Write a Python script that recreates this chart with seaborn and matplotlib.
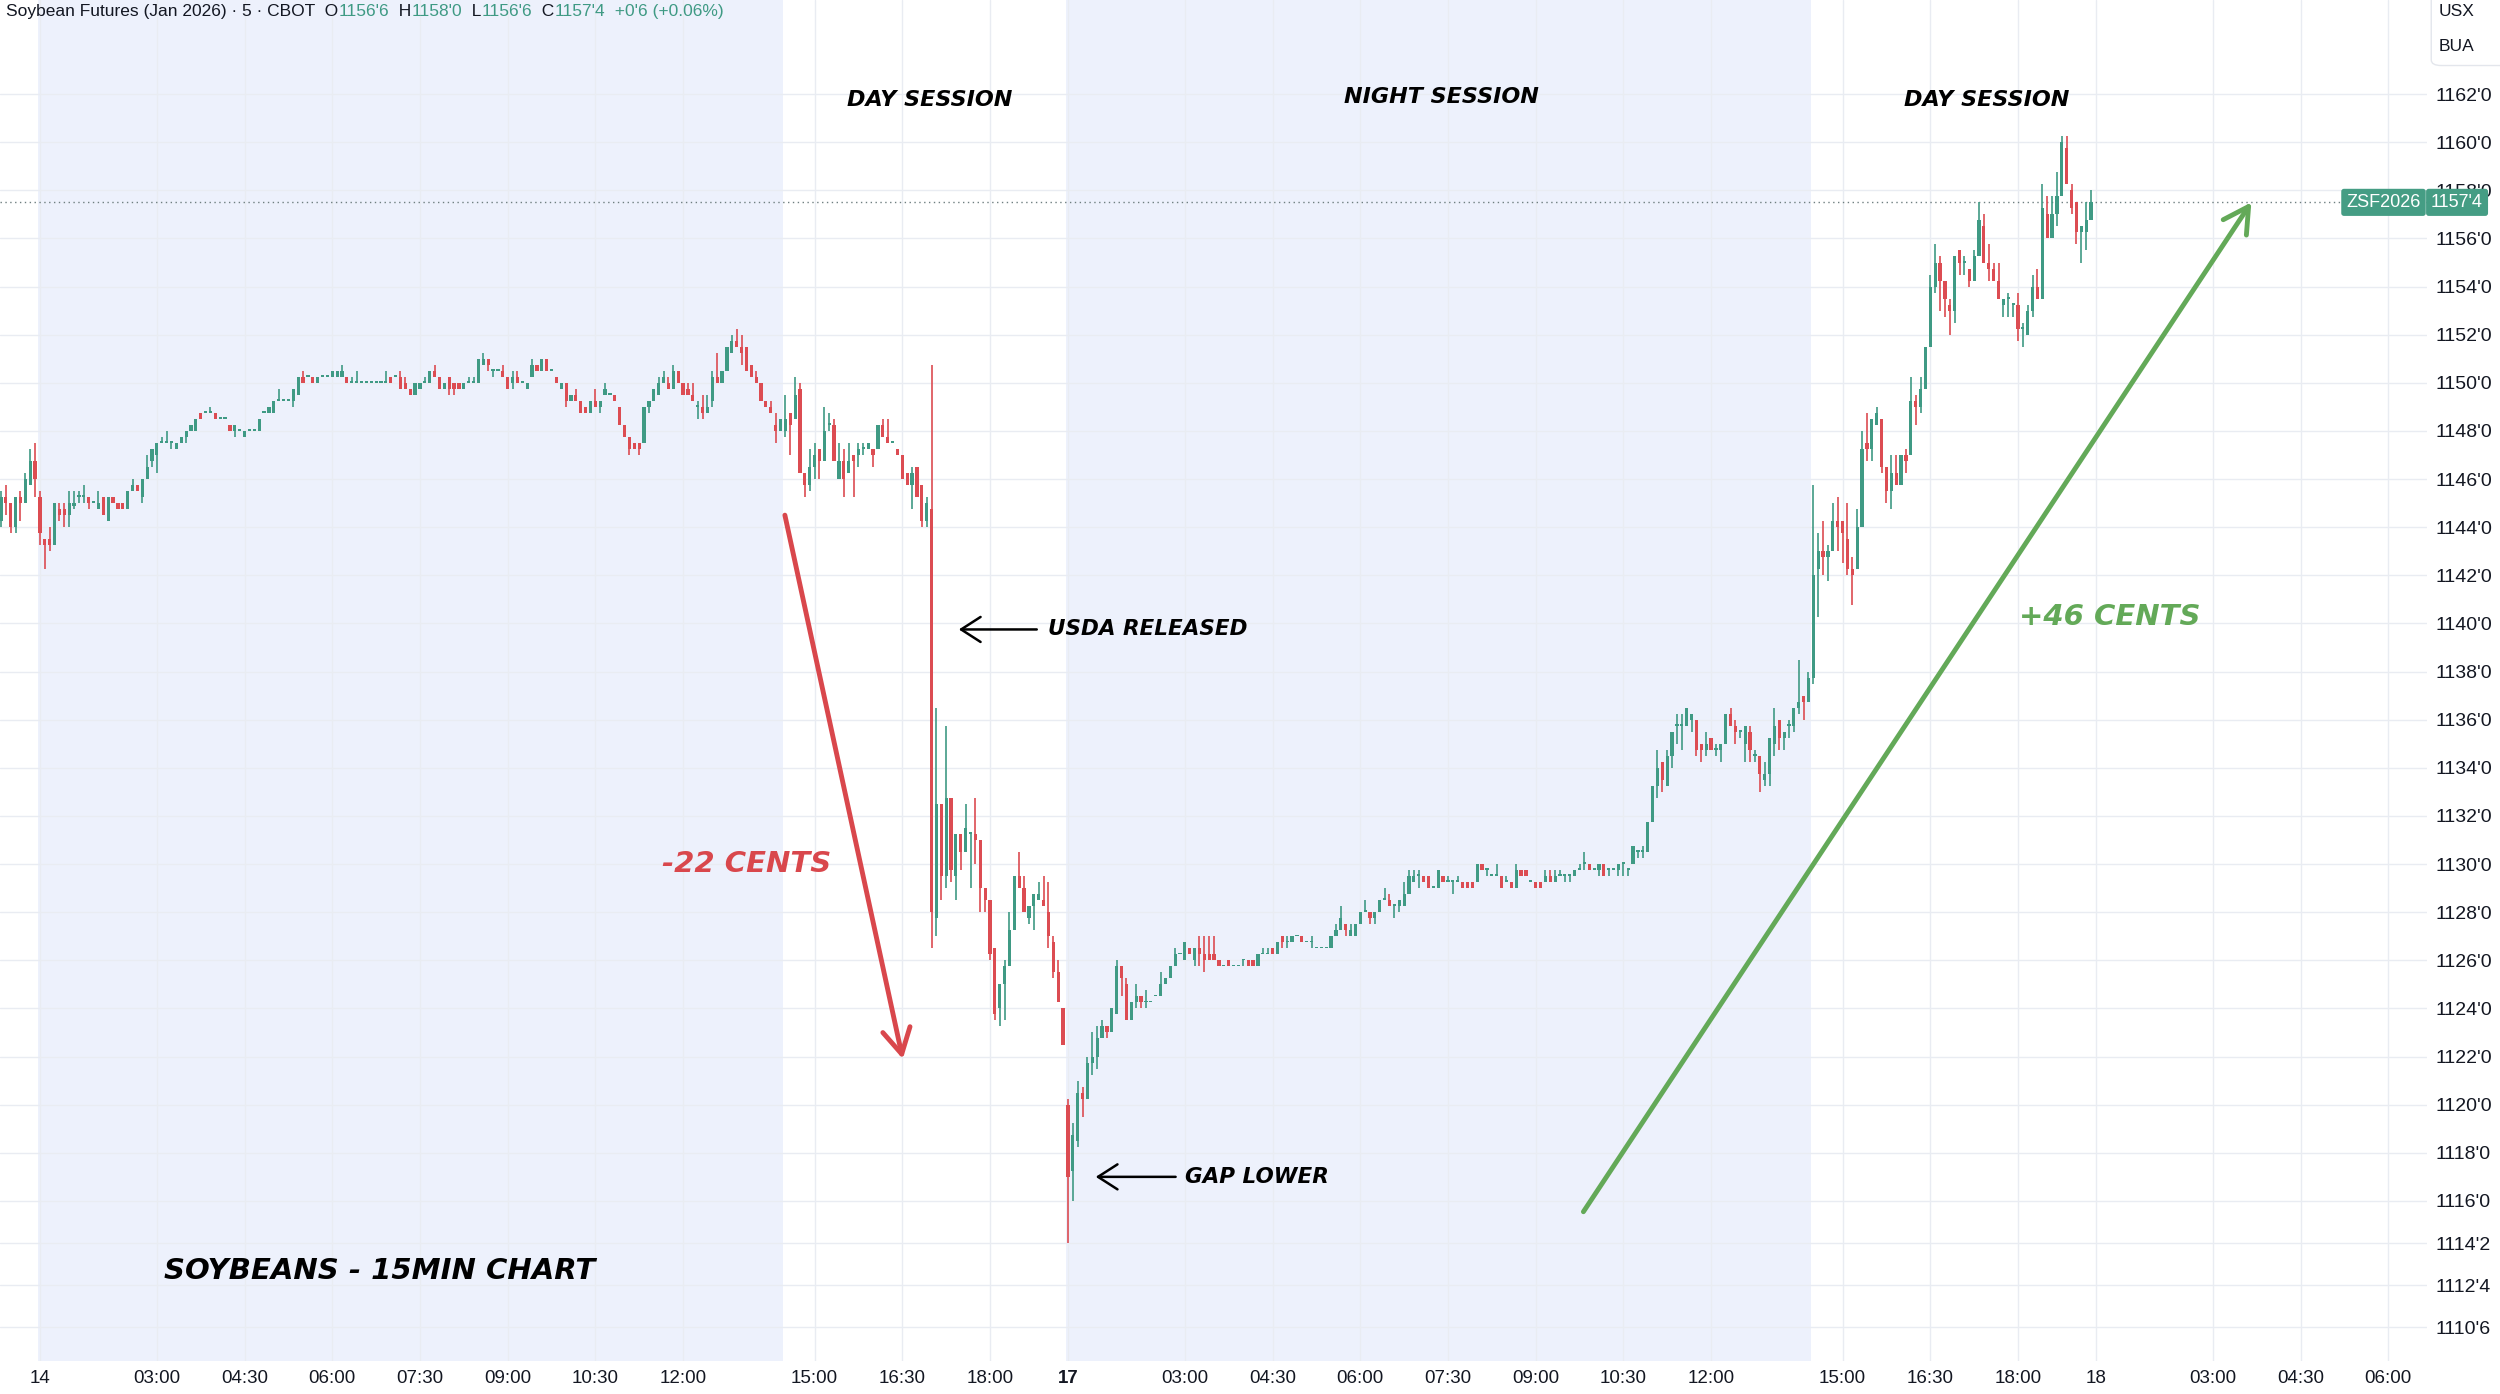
import numpy as np
import pandas as pd
import matplotlib
matplotlib.use("Agg")
import matplotlib.pyplot as plt
import matplotlib.transforms as mtransforms
from matplotlib.patches import FancyBboxPatch
from matplotlib.offsetbox import TextArea, HPacker, AnchoredOffsetbox
import seaborn as sns

# 5 minute bars, (open, high, low, close) in cents
pre13 = [
    (1144.25, 1145.5, 1144.0, 1145.25), (1145.25, 1145.75, 1144.5, 1145.0),
    (1145.0, 1145.0, 1143.75, 1144.0), (1144.0, 1145.25, 1143.75, 1145.25),
    (1145.25, 1145.5, 1144.25, 1145.0), (1145.0, 1146.25, 1145.0, 1146.0),
    (1145.75, 1147.25, 1145.75, 1146.75), (1146.75, 1147.5, 1145.25, 1146.0),
]

night14 = [
    (1145.25, 1145.5, 1143.25, 1143.75), (1143.5, 1143.5, 1142.25, 1143.25),
    (1143.5, 1144.0, 1143.0, 1143.25), (1143.25, 1145.0, 1143.25, 1145.0),
    (1144.75, 1145.0, 1144.25, 1144.5), (1144.75, 1145.0, 1144.0, 1144.5),
    (1144.5, 1145.5, 1144.0, 1145.0), (1144.875, 1145.5, 1144.75, 1145.0),
    (1145.25, 1145.5, 1145.0, 1145.25), (1145.25, 1145.75, 1145.0, 1145.25),
    (1145.25, 1145.25, 1144.75, 1145.0), (1145.0, 1145.0, 1145.0, 1145.0),
    (1144.75, 1145.5, 1144.75, 1145.0), (1145.25, 1145.25, 1144.5, 1144.5),
    (1144.25, 1145.25, 1144.25, 1145.25), (1145.25, 1145.25, 1145.0, 1145.0),
    (1145.0, 1145.0, 1144.75, 1144.75), (1145.0, 1145.0, 1144.75, 1144.75),
    (1144.75, 1145.5, 1144.75, 1145.5), (1145.5, 1146.0, 1145.5, 1145.75),
    (1145.75, 1145.75, 1145.5, 1145.5), (1145.25, 1146.0, 1145.0, 1146.0),
    (1146.0, 1147.0, 1146.0, 1146.5), (1146.75, 1147.25, 1146.5, 1147.25),
    (1147.0, 1147.5, 1146.25, 1147.5), (1147.5, 1147.75, 1147.5, 1147.5),
    (1147.5, 1148.0, 1147.5, 1147.5), (1147.5, 1147.5, 1147.25, 1147.5),
    (1147.25, 1147.5, 1147.25, 1147.5), (1147.5, 1147.75, 1147.5, 1147.75),
    (1147.75, 1148.0, 1147.5, 1148.0), (1148.0, 1148.25, 1148.0, 1148.25),
    (1148.0, 1148.5, 1148.0, 1148.5), (1148.75, 1148.75, 1148.5, 1148.5),
    (1148.75, 1148.75, 1148.75, 1148.75), (1148.75, 1149.0, 1148.75, 1148.75),
    (1148.75, 1148.75, 1148.5, 1148.5), (1148.5, 1148.5, 1148.5, 1148.5),
    (1148.5, 1148.5, 1148.5, 1148.5), (1148.25, 1148.25, 1148.0, 1148.0),
    (1148.0, 1148.25, 1147.75, 1148.25), (1148.0, 1148.0, 1148.0, 1148.0),
    (1147.75, 1148.0, 1147.75, 1148.0), (1148.0, 1148.0, 1148.0, 1148.0),
    (1148.0, 1148.0, 1148.0, 1148.0), (1148.0, 1148.5, 1148.0, 1148.5),
    (1148.75, 1148.75, 1148.75, 1148.75), (1148.75, 1149.0, 1148.75, 1149.0),
    (1148.75, 1149.25, 1148.75, 1149.25), (1149.25, 1149.75, 1149.25, 1149.25),
    (1149.25, 1149.25, 1149.25, 1149.25), (1149.25, 1149.25, 1149.25, 1149.25),
    (1149.25, 1149.75, 1149.0, 1149.75), (1149.5, 1150.25, 1149.5, 1150.25),
    (1150.25, 1150.5, 1150.0, 1150.0), (1150.25, 1150.25, 1150.25, 1150.25),
    (1150.25, 1150.25, 1150.0, 1150.0), (1150.0, 1150.25, 1150.0, 1150.25),
    (1150.25, 1150.25, 1150.25, 1150.25), (1150.25, 1150.25, 1150.25, 1150.25),
    (1150.25, 1150.5, 1150.25, 1150.5), (1150.25, 1150.5, 1150.25, 1150.5),
    (1150.25, 1150.75, 1150.25, 1150.5), (1150.25, 1150.25, 1150.0, 1150.0),
    (1150.0, 1150.25, 1150.0, 1150.0), (1150.0, 1150.5, 1150.0, 1150.0),
    (1150.0, 1150.0, 1150.0, 1150.0), (1150.0, 1150.0, 1150.0, 1150.0),
    (1150.0, 1150.0, 1150.0, 1150.0), (1150.0, 1150.0, 1150.0, 1150.0),
    (1150.0, 1150.0, 1150.0, 1150.0), (1150.0, 1150.5, 1150.0, 1150.0),
    (1150.25, 1150.25, 1150.0, 1150.0), (1150.25, 1150.25, 1150.25, 1150.25),
    (1150.25, 1150.5, 1149.75, 1149.75), (1150.0, 1150.25, 1149.75, 1149.75),
    (1149.75, 1149.75, 1149.5, 1149.5), (1149.5, 1150.0, 1149.5, 1150.0),
    (1149.75, 1150.0, 1149.75, 1150.0), (1150.0, 1150.25, 1150.0, 1150.0),
    (1150.0, 1150.5, 1150.0, 1150.5), (1150.5, 1150.75, 1150.25, 1150.25),
    (1150.25, 1150.25, 1149.75, 1149.75), (1149.75, 1150.0, 1149.75, 1150.0),
    (1150.25, 1150.25, 1149.5, 1149.75), (1150.0, 1150.0, 1149.5, 1149.75),
    (1150.0, 1150.0, 1149.75, 1149.75), (1149.75, 1150.0, 1149.75, 1150.0),
    (1150.0, 1150.25, 1150.0, 1150.0), (1150.0, 1150.25, 1150.0, 1150.0),
    (1150.0, 1151.0, 1150.0, 1151.0), (1150.75, 1151.25, 1150.75, 1151.0),
    (1151.0, 1151.0, 1150.5, 1150.75), (1150.5, 1150.5, 1150.25, 1150.5),
    (1150.5, 1150.5, 1150.5, 1150.5), (1150.5, 1150.75, 1150.25, 1150.25),
    (1150.25, 1150.25, 1149.75, 1149.75), (1150.0, 1150.5, 1149.75, 1150.25),
    (1150.25, 1150.5, 1150.0, 1150.0), (1150.0, 1150.0, 1150.0, 1150.0),
    (1149.75, 1150.0, 1149.75, 1150.0), (1150.25, 1151.0, 1150.25, 1150.75),
    (1150.75, 1150.75, 1150.5, 1150.5), (1150.5, 1151.0, 1150.5, 1151.0),
    (1151.0, 1151.0, 1150.5, 1150.5), (1150.5, 1150.5, 1150.5, 1150.5),
    (1150.25, 1150.25, 1150.0, 1150.0), (1149.75, 1150.0, 1149.75, 1150.0),
    (1150.0, 1150.0, 1149.0, 1149.25), (1149.25, 1149.5, 1149.25, 1149.5),
    (1149.5, 1149.75, 1149.25, 1149.25), (1149.25, 1149.25, 1148.75, 1148.75),
    (1149.0, 1149.0, 1148.75, 1148.75), (1148.75, 1149.25, 1148.75, 1149.25),
    (1149.25, 1149.75, 1149.0, 1149.0), (1149.0, 1149.25, 1148.75, 1149.25),
    (1149.5, 1150.0, 1149.5, 1149.75), (1149.5, 1149.5, 1149.5, 1149.5),
    (1149.5, 1149.5, 1149.25, 1149.25), (1149.0, 1149.0, 1148.25, 1148.25),
    (1148.25, 1148.25, 1147.75, 1147.75), (1147.75, 1147.75, 1147.0, 1147.25),
    (1147.5, 1147.5, 1147.25, 1147.25), (1147.5, 1147.5, 1147.0, 1147.25),
    (1147.5, 1149.0, 1147.5, 1149.0), (1149.0, 1149.25, 1148.75, 1149.25),
    (1149.25, 1149.75, 1149.25, 1149.75), (1149.5, 1150.25, 1149.5, 1150.0),
    (1150.0, 1150.5, 1150.0, 1150.25), (1150.0, 1150.25, 1149.75, 1149.75),
    (1149.75, 1150.75, 1149.75, 1150.5), (1150.5, 1150.5, 1150.0, 1150.0),
    (1150.0, 1150.0, 1149.5, 1149.5), (1149.75, 1150.0, 1149.5, 1149.5),
    (1149.5, 1150.0, 1149.25, 1149.25), (1149.0, 1149.25, 1148.5, 1149.0),
    (1149.0, 1149.5, 1148.5, 1148.75), (1148.75, 1149.5, 1148.75, 1149.0),
    (1149.25, 1150.5, 1149.0, 1150.25), (1150.25, 1151.25, 1150.0, 1150.0),
    (1150.0, 1150.5, 1150.0, 1150.5), (1150.5, 1151.5, 1150.5, 1151.5),
    (1151.25, 1152.0, 1151.25, 1151.75), (1151.75, 1152.25, 1151.5, 1151.5),
    (1151.5, 1152.0, 1150.75, 1151.25), (1151.5, 1151.5, 1150.5, 1150.5),
    (1150.75, 1150.75, 1150.25, 1150.25), (1150.25, 1150.5, 1150.0, 1150.0),
    (1150.0, 1150.0, 1149.25, 1149.25), (1149.25, 1149.25, 1149.0, 1149.0),
    (1149.0, 1149.25, 1148.75, 1148.75), (1148.25, 1148.75, 1147.5, 1148.0),
    (1148.0, 1148.5, 1148.0, 1148.5),
]

day14 = [
    (1148.0, 1149.5, 1147.75, 1148.5), (1148.75, 1148.75, 1147.0, 1148.25),
    (1148.5, 1150.25, 1148.5, 1149.5), (1149.75, 1150.0, 1146.25, 1146.25),
    (1146.25, 1146.25, 1145.25, 1145.75), (1145.75, 1147.25, 1145.5, 1146.5),
    (1146.5, 1147.5, 1146.0, 1147.0), (1147.25, 1147.25, 1146.0, 1146.75),
    (1146.75, 1149.0, 1146.75, 1148.0), (1148.25, 1148.75, 1148.0, 1148.25),
    (1148.25, 1148.5, 1146.75, 1146.75), (1146.0, 1147.5, 1146.0, 1146.75),
    (1146.75, 1147.25, 1145.25, 1146.0), (1146.25, 1147.5, 1146.25, 1146.75),
    (1147.0, 1147.0, 1145.25, 1146.75), (1147.0, 1147.5, 1146.5, 1147.25),
    (1147.25, 1147.5, 1147.0, 1147.25), (1147.25, 1147.5, 1147.25, 1147.5),
    (1147.25, 1147.25, 1146.5, 1147.0), (1147.25, 1148.25, 1147.25, 1148.25),
    (1148.25, 1148.5, 1147.75, 1147.75), (1147.75, 1148.5, 1147.5, 1147.5),
    (1147.5, 1147.5, 1147.5, 1147.5), (1147.25, 1147.25, 1147.0, 1147.0),
    (1147.0, 1147.0, 1146.0, 1146.0), (1146.25, 1146.25, 1145.75, 1145.75),
    (1145.75, 1146.5, 1144.75, 1146.25), (1146.5, 1146.5, 1145.25, 1145.25),
    (1145.75, 1145.75, 1144.0, 1144.25), (1144.25, 1145.25, 1144.0, 1145.0),
    (1144.75, 1150.75, 1126.5, 1128.0), (1127.75, 1136.5, 1127.0, 1132.5),
    (1132.5, 1132.5, 1128.5, 1129.5), (1129.5, 1135.75, 1129.0, 1132.75),
    (1132.75, 1132.75, 1129.25, 1129.75), (1129.5, 1131.25, 1128.5, 1131.25),
    (1131.25, 1131.25, 1129.75, 1130.5), (1130.5, 1132.5, 1130.5, 1131.5),
    (1131.25, 1131.25, 1129.0, 1131.25), (1131.25, 1132.75, 1130.0, 1131.0),
    (1131.0, 1131.0, 1128.0, 1129.0), (1129.0, 1129.0, 1128.0, 1128.5),
    (1128.5, 1128.5, 1126.0, 1126.25), (1126.5, 1126.5, 1123.5, 1123.75),
    (1124.0, 1125.0, 1123.25, 1125.0), (1125.0, 1126.0, 1123.5, 1125.75),
    (1125.75, 1128.0, 1125.75, 1127.25), (1127.25, 1129.5, 1127.25, 1129.5),
    (1129.5, 1130.5, 1129.0, 1129.0), (1129.0, 1129.5, 1128.0, 1128.0),
    (1127.75, 1128.25, 1127.5, 1128.25), (1128.25, 1128.75, 1127.25, 1128.75),
    (1128.5, 1129.25, 1128.5, 1128.75), (1128.5, 1129.5, 1128.25, 1128.25),
    (1128.0, 1129.25, 1126.5, 1127.0), (1126.75, 1127.0, 1125.25, 1125.5),
    (1125.5, 1126.0, 1124.25, 1124.25), (1124.0, 1124.0, 1122.5, 1122.5),
]

night17 = [
    (1120.0, 1120.25, 1114.25, 1117.0), (1117.25, 1119.25, 1116.0, 1118.75),
    (1118.5, 1121.0, 1118.25, 1120.5), (1120.5, 1120.75, 1119.5, 1120.25),
    (1120.25, 1122.0, 1120.25, 1121.75), (1121.75, 1123.0, 1121.25, 1122.0),
    (1122.0, 1123.25, 1121.5, 1122.75), (1122.75, 1123.5, 1122.75, 1123.25),
    (1123.25, 1123.25, 1122.75, 1123.0), (1123.0, 1124.0, 1123.0, 1124.0),
    (1123.75, 1126.0, 1123.75, 1125.75), (1125.75, 1125.75, 1124.5, 1125.25),
    (1125.0, 1125.25, 1123.5, 1123.5), (1123.5, 1124.25, 1123.5, 1124.25),
    (1124.25, 1125.0, 1124.0, 1124.5), (1124.5, 1124.5, 1124.0, 1124.25),
    (1124.25, 1124.75, 1124.0, 1124.25), (1124.25, 1124.25, 1124.25, 1124.25),
    (1124.5, 1124.5, 1124.5, 1124.5), (1124.5, 1125.5, 1124.5, 1125.0),
    (1125.0, 1125.25, 1125.0, 1125.25), (1125.25, 1125.75, 1125.25, 1125.75),
    (1125.75, 1126.5, 1125.75, 1126.25), (1126.25, 1126.25, 1126.25, 1126.25),
    (1126.0, 1126.75, 1126.0, 1126.75), (1126.5, 1126.5, 1126.25, 1126.25),
    (1126.0, 1126.5, 1125.75, 1126.5), (1126.5, 1127.0, 1125.75, 1126.25),
    (1126.25, 1127.0, 1125.5, 1126.0), (1126.25, 1127.0, 1126.0, 1126.0),
    (1126.25, 1127.0, 1126.0, 1126.0), (1126.0, 1126.0, 1125.75, 1125.75),
    (1125.75, 1125.75, 1125.75, 1125.75), (1126.0, 1126.0, 1125.75, 1125.75),
    (1125.75, 1125.75, 1125.75, 1125.75), (1125.75, 1125.75, 1125.75, 1125.75),
    (1126.0, 1126.0, 1125.75, 1126.0), (1126.0, 1126.0, 1125.75, 1125.75),
    (1126.0, 1126.0, 1125.75, 1125.75), (1125.75, 1126.25, 1125.75, 1126.25),
    (1126.25, 1126.5, 1126.25, 1126.25), (1126.25, 1126.5, 1126.25, 1126.25),
    (1126.5, 1126.5, 1126.25, 1126.25), (1126.25, 1126.75, 1126.25, 1126.75),
    (1127.0, 1127.0, 1126.5, 1126.75), (1126.75, 1127.0, 1126.5, 1126.75),
    (1126.75, 1127.0, 1126.75, 1127.0), (1127.0, 1127.0, 1127.0, 1127.0),
    (1127.0, 1127.0, 1126.75, 1126.75), (1126.75, 1126.75, 1126.75, 1126.75),
    (1126.75, 1127.0, 1126.5, 1126.75), (1126.5, 1126.5, 1126.5, 1126.5),
    (1126.5, 1126.5, 1126.5, 1126.5), (1126.5, 1126.5, 1126.5, 1126.5),
    (1126.5, 1127.0, 1126.5, 1127.0), (1127.0, 1127.5, 1127.0, 1127.25),
    (1127.25, 1128.25, 1127.25, 1127.75), (1127.5, 1127.5, 1127.0, 1127.25),
    (1127.0, 1127.5, 1127.0, 1127.25), (1127.0, 1127.5, 1127.0, 1127.5),
    (1127.5, 1128.0, 1127.5, 1128.0), (1128.0, 1128.5, 1128.0, 1128.0),
    (1128.0, 1128.0, 1127.5, 1127.75), (1127.75, 1128.0, 1127.5, 1128.0),
    (1128.0, 1128.5, 1128.0, 1128.5), (1128.5, 1129.0, 1128.5, 1128.5),
    (1128.5, 1128.75, 1128.25, 1128.25), (1128.25, 1128.25, 1127.75, 1128.25),
    (1128.25, 1128.5, 1128.0, 1128.5), (1128.25, 1129.25, 1128.25, 1128.75),
    (1128.75, 1129.75, 1128.75, 1129.5), (1129.25, 1129.75, 1129.25, 1129.5),
    (1129.5, 1129.75, 1129.0, 1129.5), (1129.5, 1129.5, 1129.25, 1129.25),
    (1129.5, 1129.5, 1129.0, 1129.0), (1129.0, 1129.0, 1129.0, 1129.0),
    (1129.0, 1129.75, 1129.0, 1129.75), (1129.5, 1129.5, 1129.25, 1129.25),
    (1129.25, 1129.5, 1129.25, 1129.25), (1129.25, 1129.25, 1128.75, 1129.25),
    (1129.25, 1129.5, 1129.25, 1129.25), (1129.25, 1129.25, 1129.0, 1129.0),
    (1129.25, 1129.25, 1129.0, 1129.0), (1129.25, 1129.25, 1129.0, 1129.0),
    (1129.25, 1130.0, 1129.25, 1130.0), (1130.0, 1130.0, 1129.75, 1129.75),
    (1129.75, 1129.75, 1129.5, 1129.75), (1129.5, 1129.5, 1129.5, 1129.5),
    (1129.5, 1130.0, 1129.5, 1129.5), (1129.5, 1129.5, 1129.0, 1129.0),
    (1129.25, 1129.5, 1129.25, 1129.25), (1129.25, 1129.25, 1129.0, 1129.0),
    (1129.0, 1130.0, 1129.0, 1129.75), (1129.75, 1129.75, 1129.5, 1129.5),
    (1129.75, 1129.75, 1129.5, 1129.5), (1129.25, 1129.25, 1129.25, 1129.25),
    (1129.25, 1129.25, 1129.0, 1129.0), (1129.25, 1129.25, 1129.0, 1129.0),
    (1129.25, 1129.75, 1129.25, 1129.5), (1129.5, 1129.75, 1129.25, 1129.25),
    (1129.25, 1129.75, 1129.25, 1129.5), (1129.5, 1129.75, 1129.5, 1129.5),
    (1129.5, 1129.5, 1129.25, 1129.5), (1129.5, 1129.5, 1129.25, 1129.5),
    (1129.5, 1129.75, 1129.5, 1129.75), (1129.75, 1130.0, 1129.75, 1129.75),
    (1130.0, 1130.5, 1129.75, 1130.0), (1130.0, 1130.0, 1129.75, 1129.75),
    (1129.75, 1129.75, 1129.75, 1129.75), (1129.75, 1130.0, 1129.5, 1130.0),
    (1130.0, 1130.0, 1129.5, 1129.5), (1129.75, 1129.75, 1129.5, 1129.75),
    (1129.75, 1129.75, 1129.75, 1129.75), (1129.75, 1130.0, 1129.5, 1130.0),
    (1130.0, 1130.0, 1129.5, 1130.0), (1129.75, 1129.75, 1129.5, 1129.75),
    (1130.0, 1130.75, 1130.0, 1130.75), (1130.5, 1130.5, 1130.25, 1130.5),
    (1130.5, 1130.75, 1130.25, 1130.5), (1130.5, 1131.75, 1130.5, 1131.75),
    (1131.75, 1133.25, 1131.75, 1133.25), (1133.25, 1134.75, 1132.75, 1134.0),
    (1134.25, 1134.25, 1133.0, 1133.5), (1133.25, 1134.75, 1133.25, 1134.5),
    (1134.5, 1135.5, 1134.0, 1135.5), (1135.75, 1136.25, 1135.0, 1135.75),
    (1135.75, 1136.25, 1134.75, 1135.75), (1135.75, 1136.5, 1135.75, 1136.5),
    (1136.0, 1136.25, 1135.5, 1136.25), (1136.0, 1136.0, 1134.5, 1134.75),
    (1135.0, 1135.0, 1134.25, 1134.75), (1134.75, 1135.5, 1134.5, 1135.0),
    (1135.25, 1135.25, 1134.75, 1134.75), (1134.75, 1135.0, 1134.5, 1134.75),
    (1134.75, 1135.0, 1134.25, 1135.0), (1135.0, 1136.25, 1135.0, 1136.25),
    (1136.25, 1136.5, 1135.75, 1135.75), (1135.75, 1136.0, 1135.0, 1135.5),
    (1135.5, 1135.5, 1135.25, 1135.5), (1135.0, 1135.75, 1134.25, 1135.75),
    (1135.5, 1135.75, 1134.25, 1134.75), (1134.5, 1134.75, 1134.25, 1134.5),
    (1134.5, 1134.5, 1133.0, 1133.75), (1133.5, 1134.25, 1133.25, 1133.75),
    (1133.75, 1135.25, 1133.25, 1135.25), (1135.0, 1136.5, 1134.5, 1135.75),
    (1136.0, 1136.0, 1134.75, 1135.25), (1135.25, 1135.5, 1134.75, 1135.5),
    (1135.75, 1136.0, 1135.25, 1135.75), (1135.75, 1136.5, 1135.5, 1136.5),
    (1136.5, 1138.5, 1136.25, 1136.75), (1137.0, 1137.0, 1136.0, 1136.75),
    (1136.75, 1138.0, 1136.75, 1137.75),
]

day17 = [
    (1137.75, 1145.75, 1137.5, 1142.0), (1142.25, 1143.75, 1140.25, 1143.0),
    (1143.0, 1144.25, 1142.0, 1142.75), (1142.75, 1143.25, 1141.75, 1143.0),
    (1143.0, 1145.0, 1143.0, 1144.25), (1144.25, 1145.25, 1143.0, 1144.0),
    (1144.25, 1144.25, 1142.5, 1143.75), (1143.5, 1145.0, 1142.0, 1142.25),
    (1142.25, 1142.75, 1140.75, 1142.0), (1142.25, 1144.75, 1142.25, 1144.0),
    (1144.0, 1148.0, 1144.0, 1147.25), (1147.5, 1148.75, 1146.75, 1147.25),
    (1147.25, 1148.5, 1146.75, 1148.5), (1148.25, 1149.0, 1148.25, 1148.75),
    (1148.5, 1148.5, 1146.25, 1146.5), (1146.5, 1146.5, 1145.0, 1145.5),
    (1145.5, 1147.0, 1144.75, 1146.25), (1146.25, 1147.0, 1145.75, 1145.75),
    (1145.75, 1147.0, 1145.75, 1147.0), (1147.0, 1147.25, 1146.25, 1146.75),
    (1147.0, 1150.25, 1147.0, 1149.25), (1149.25, 1149.5, 1148.25, 1149.0),
    (1149.0, 1150.25, 1148.75, 1149.75), (1149.75, 1151.5, 1149.75, 1151.5),
    (1151.5, 1154.5, 1151.5, 1154.0), (1154.0, 1155.75, 1153.75, 1155.0),
    (1155.0, 1155.25, 1153.0, 1154.25), (1154.25, 1154.25, 1152.75, 1153.5),
    (1153.25, 1153.5, 1152.0, 1153.0), (1153.0, 1155.25, 1152.5, 1155.25),
    (1155.5, 1155.5, 1154.5, 1155.0), (1155.0, 1155.25, 1154.5, 1155.0),
    (1154.75, 1154.75, 1154.0, 1154.25), (1154.25, 1155.5, 1154.25, 1155.25),
    (1155.25, 1157.5, 1155.25, 1156.75), (1156.5, 1157.0, 1155.0, 1155.0),
    (1155.0, 1155.75, 1154.25, 1154.75), (1154.75, 1155.0, 1154.25, 1154.25),
    (1154.25, 1155.0, 1153.5, 1153.5), (1153.25, 1153.5, 1152.75, 1153.5),
    (1153.5, 1153.75, 1152.75, 1153.5), (1153.25, 1153.25, 1152.75, 1153.25),
    (1153.25, 1153.75, 1151.75, 1152.25), (1152.25, 1152.5, 1151.5, 1152.25),
    (1152.0, 1153.25, 1152.0, 1153.0), (1153.0, 1154.5, 1152.75, 1154.0),
    (1154.0, 1154.75, 1153.5, 1153.5), (1153.5, 1158.25, 1153.5, 1157.25),
    (1157.0, 1157.75, 1156.0, 1156.0), (1156.0, 1157.75, 1156.0, 1157.0),
    (1157.0, 1158.75, 1156.5, 1157.75), (1157.75, 1160.25, 1157.75, 1160.0),
    (1159.75, 1160.25, 1158.25, 1158.25), (1158.0, 1158.25, 1157.0, 1157.25),
    (1157.5, 1157.5, 1155.75, 1156.25), (1156.25, 1156.5, 1155.0, 1156.5),
    (1156.25, 1157.5, 1155.5, 1156.75), (1156.75, 1158.0, 1156.75, 1157.5),
]

# axis labels: bar index of each time label (gapless trading-time axis)
time_ticks = [8, 32, 50, 68, 86, 104, 122, 140, 167, 185, 203, 219, 243, 261,
              279, 297, 315, 333, 351, 378, 396, 414, 430, 454, 472, 490]
time_labels = ["14", "03:00", "04:30", "06:00", "07:30", "09:00", "10:30", "12:00",
               "15:00", "16:30", "18:00", "17", "03:00", "04:30", "06:00", "07:30",
               "09:00", "10:30", "12:00", "15:00", "16:30", "18:00", "18", "03:00",
               "04:30", "06:00"]
price_ticks = [1162, 1160, 1158, 1156, 1154, 1152, 1150, 1148, 1146, 1144, 1142, 1140,
               1138, 1136, 1134, 1132, 1130, 1128, 1126, 1124, 1122, 1120, 1118, 1116,
               1114.25, 1112.5, 1110.75]
night_sessions = [(7.5, 160.5), (218.5, 371.5)]


def cents(p):
    whole = int(np.floor(p + 1e-9))
    return f"{whole}'{int(round((p - whole) * 8))}"


df = pd.DataFrame(pre13 + night14 + day14 + night17 + day17,
                  columns=["open", "high", "low", "close"])
df["bar"] = np.arange(len(df))
df["high"] = df[["open", "high", "close"]].max(axis=1)
df["low"] = df[["open", "low", "close"]].min(axis=1)
df["up"] = df["close"] >= df["open"]

up_c, down_c = "#3f9a84", "#dc4c52"
ink = "#131722"
red_note, green_note = "#d9474c", "#63a958"

sns.set_theme(style="white")
plt.rcParams["font.family"] = ["Liberation Sans", "DejaVu Sans"]

fig = plt.figure(figsize=(25, 13.94), dpi=100)
ax = fig.add_axes([0, 0.0239, 0.9707, 0.9761])

for a, b in night_sessions:
    ax.axvspan(a, b, color="#EDF1FC", lw=0, zorder=0.2)

colors = np.where(df["up"], up_c, down_c)
ax.vlines(df["bar"], df["low"], df["high"], colors=colors, lw=1.2, zorder=2)
body = (df["close"] - df["open"]).abs().clip(lower=0.07)
bottom = df[["open", "close"]].min(axis=1)
ax.bar(df["bar"], body, bottom=bottom, width=0.66, color=colors, lw=0, zorder=3)

last = df.iloc[-1]
prev = df.iloc[-2]
ax.axhline(last["close"], color="#6f7f80", lw=1.0, ls=(0, (1, 2.5)), zorder=1.8)

ax.set_xlim(-0.2, 497.9)
ax.set_ylim(1109.36, 1165.91)
ax.set_xticks(time_ticks)
ax.set_xticklabels(time_labels)
ax.set_yticks(price_ticks)
ax.set_yticklabels([cents(p) for p in price_ticks])
ax.yaxis.tick_right()
ax.grid(True, color="#E9ECF2", lw=1.0)
ax.set_axisbelow(True)
ax.tick_params(axis="x", length=0, pad=7, labelsize=13.5, colors=ink)
ax.tick_params(axis="y", length=0, pad=6, labelsize=14, colors=ink)
for lab in ax.get_xticklabels():
    if lab.get_text() == "17":
        lab.set_fontweight("bold")
sns.despine(ax=ax, left=True, bottom=True, right=True, top=True)

# price tag on the right (covers the 1158'0 label, as on the chart)
blend = mtransforms.blended_transform_factory(ax.transAxes, ax.transData)
tag = "#459d84"
ax.text(0.9975, last["close"], "ZSF2026", transform=blend, ha="right", va="center",
        color="white", fontsize=13, zorder=6, clip_on=False,
        bbox=dict(boxstyle="round,pad=0.28,rounding_size=0.15", fc=tag, ec="none"))
ax.text(1.0018, last["close"], cents(last["close"]), transform=blend, ha="left",
        va="center", color="white", fontsize=13, zorder=6, clip_on=False,
        bbox=dict(boxstyle="round,pad=0.28,rounding_size=0.15", fc=tag, ec="none"))

# currency box top-right
fig.patches.append(FancyBboxPatch((0.9725, 0.953), 0.04, 0.06, transform=fig.transFigure,
                                  boxstyle="round,pad=0,rounding_size=0.004",
                                  fc="white", ec="#E3E6EC", lw=1))
fig.text(0.9828, 0.9915, "USX", ha="center", va="center", fontsize=12.5, color=ink)
fig.text(0.9828, 0.9665, "BUA", ha="center", va="center", fontsize=12.5, color=ink)

# legend line top-left
chg = last["close"] - prev["close"]
pct = chg / prev["close"] * 100
pieces = [("Soybean Futures (Jan 2026) \u00b7 5 \u00b7 CBOT  O", ink),
          (cents(last["open"]), up_c), ("  H", ink), (cents(last["high"]), up_c),
          ("  L", ink), (cents(last["low"]), up_c), ("  C", ink),
          (cents(last["close"]), up_c),
          (f"  +{cents(chg)} (+{pct:.2f}%)", up_c)]
box = HPacker(children=[TextArea(t, textprops=dict(color=c, fontsize=12.5))
                        for t, c in pieces], pad=0, sep=0)
fig.add_artist(AnchoredOffsetbox(loc="upper left", child=box, frameon=False, pad=0,
                                 borderpad=0, bbox_to_anchor=(0.0025, 0.997),
                                 bbox_transform=fig.transFigure))

# annotations
note = dict(fontweight="bold", fontstyle="italic", family="DejaVu Sans")
ax.text(190.7, 1161.75, "DAY SESSION", ha="center", va="center", fontsize=16, color="black", **note)
ax.text(295.7, 1161.87, "NIGHT SESSION", ha="center", va="center", fontsize=16, color="black", **note)
ax.text(407.6, 1161.75, "DAY SESSION", ha="center", va="center", fontsize=16, color="black", **note)
ax.text(214.9, 1139.75, "USDA RELEASED", ha="left", va="center", fontsize=15.5, color="black", **note)
ax.text(243.0, 1117.0, "GAP LOWER", ha="left", va="center", fontsize=15.5, color="black", **note)
ax.text(153.1, 1130.0, "-22 CENTS", ha="center", va="center", fontsize=21, color=red_note, **note)
ax.text(432.8, 1140.25, "+46 CENTS", ha="center", va="center", fontsize=21, color=green_note, **note)
ax.text(33.4, 1113.1, "SOYBEANS - 15MIN CHART", ha="left", va="center", fontsize=21, color="black", **note)

black_arrow = dict(arrowstyle="->,head_length=0.7,head_width=0.45", lw=1.8, color="black",
                   mutation_scale=20, shrinkA=0, shrinkB=0)
ax.annotate("", xy=(196.6, 1139.75), xytext=(212.6, 1139.75), arrowprops=black_arrow, zorder=5)
ax.annotate("", xy=(224.7, 1117.0), xytext=(241.1, 1117.0), arrowprops=black_arrow, zorder=5)
ax.annotate("", xy=(185.1, 1121.9), xytext=(160.9, 1144.5), zorder=5,
            arrowprops=dict(arrowstyle="->,head_length=0.9,head_width=0.5", lw=3.5,
                            color=red_note, mutation_scale=20, shrinkA=0, shrinkB=0))
ax.annotate("", xy=(461.9, 1157.5), xytext=(324.8, 1115.55), zorder=5,
            arrowprops=dict(arrowstyle="->,head_length=0.9,head_width=0.5", lw=3.5,
                            color=green_note, mutation_scale=20, shrinkA=0, shrinkB=0))

fig.savefig("out.png", dpi=100, facecolor="white")
